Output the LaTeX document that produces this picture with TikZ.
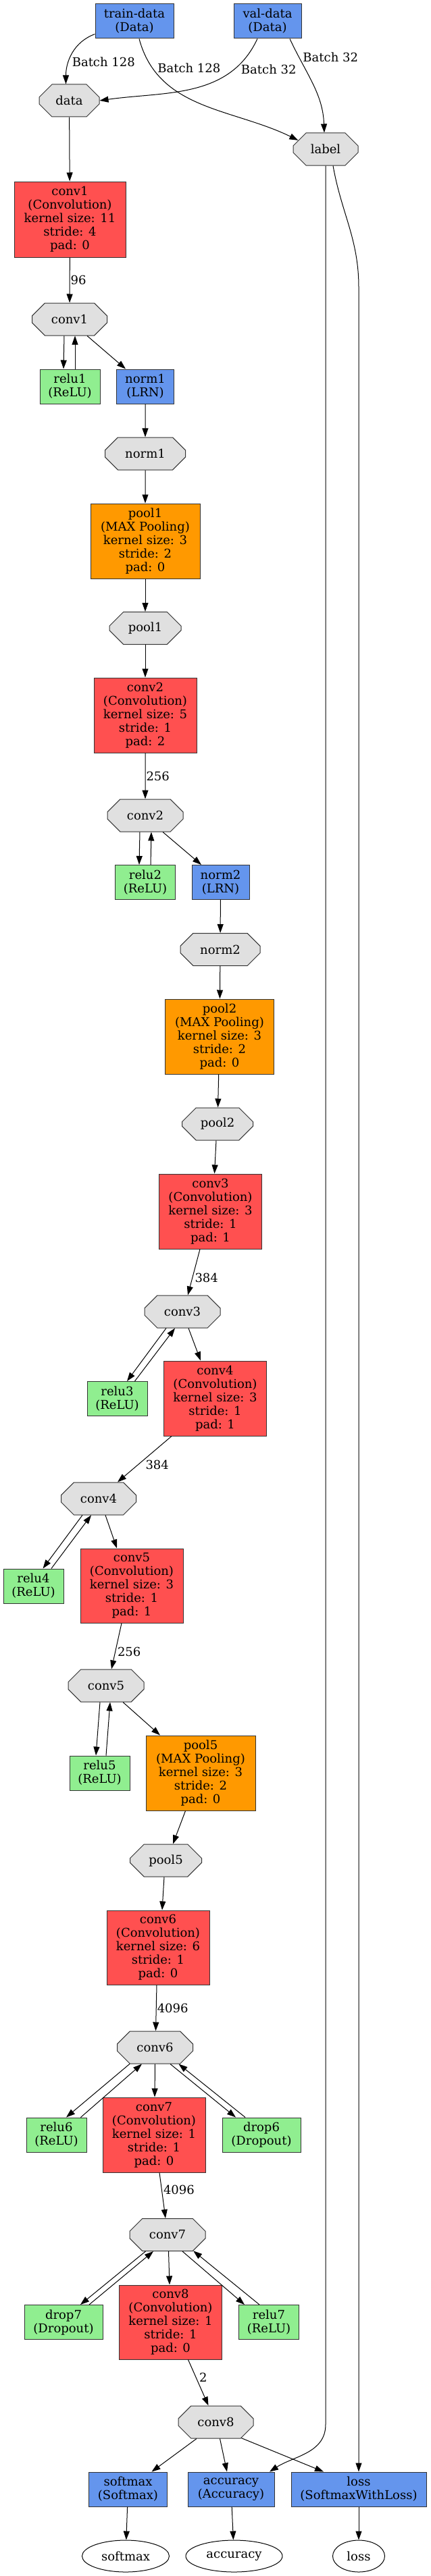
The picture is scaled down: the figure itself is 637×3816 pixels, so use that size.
\documentclass[tikz,border=0pt]{standalone}
\usepackage{fontspec}
\setmainfont{DejaVu Serif}
\usepackage{tikz}
\usetikzlibrary{arrows.meta,shapes.misc,shapes.geometric}
\definecolor{convred}{HTML}{FF5050}
\definecolor{poolorange}{HTML}{FF9900}
\definecolor{layerblue}{HTML}{6495ED}
\definecolor{inplacegreen}{HTML}{90EE90}
\definecolor{blobgray}{HTML}{E0E0E0}
\definecolor{rim}{HTML}{333333}
\tikzset{
  layer/.style={draw=rim, rectangle, align=center, inner sep=1pt, minimum height=51pt},
  conv/.style={layer, fill=convred, minimum width=152pt, minimum height=111pt},
  pool/.style={layer, fill=poolorange, minimum width=162pt, minimum height=111pt},
  bluelayer/.style={layer, fill=layerblue},
  inplace/.style={layer, fill=inplacegreen, minimum width=89pt},
  blob/.style={draw=rim, fill=blobgray, chamfered rectangle, chamfered rectangle xsep=30pt,
    chamfered rectangle ysep=12pt, inner sep=0pt, minimum width=112pt, minimum height=48pt},
  sink/.style={draw=black, ellipse, inner sep=0pt, minimum height=47pt},
  lbl/.style={inner sep=1pt}
}
\begin{document}
\begin{tikzpicture}[auto, x=1pt, y=1pt, line width=1pt, >={Triangle[length=13pt,width=9pt]},
    font=\fontsize{18}{20}\selectfont]
  \useasboundingbox (0,0) rectangle (637,-3816);
  % data layers
  \node[bluelayer, minimum width=116pt] (train) at (199,-31.5) {train-data\\(Data)};
  \node[bluelayer, minimum width=100pt] (val) at (396,-31.5) {val-data\\(Data)};
  \node[blob, minimum width=89pt] (data) at (102.5,-149) {data};
  \node[blob, minimum width=96pt] (label) at (482,-221) {label};
  % conv1 .. norm1 .. pool1
  \node[conv, minimum width=165pt, minimum height=112pt] (conv1) at (103.5,-325) {conv1\\(Convolution)\\kernel size: 11\\stride: 4\\pad: 0};
  \node[blob, minimum width=111pt] (conv1B) at (103,-473) {conv1};
  \node[inplace] (relu1) at (103.5,-572.5) {relu1\\(ReLU)};
  \node[bluelayer, minimum width=85pt] (norm1) at (215,-572.5) {norm1\\(LRN)};
  \node[blob, minimum width=119pt] (norm1B) at (215,-672) {norm1};
  \node[pool] (pool1) at (215,-801.5) {pool1\\(MAX Pooling)\\kernel size: 3\\stride: 2\\pad: 0};
  \node[blob, minimum width=106pt] (pool1B) at (215,-930.5) {pool1};
  % conv2 .. norm2 .. pool2
  \node[conv] (conv2) at (215,-1059.5) {conv2\\(Convolution)\\kernel size: 5\\stride: 1\\pad: 2};
  \node[blob] (conv2B) at (215,-1208) {conv2};
  \node[inplace] (relu2) at (215,-1307) {relu2\\(ReLU)};
  \node[bluelayer, minimum width=85pt] (norm2) at (326.5,-1307) {norm2\\(LRN)};
  \node[blob, minimum width=118pt] (norm2B) at (326,-1406.5) {norm2};
  \node[pool, minimum width=161pt] (pool2) at (325,-1535.5) {pool2\\(MAX Pooling)\\kernel size: 3\\stride: 2\\pad: 0};
  \node[blob, minimum width=105pt] (pool2B) at (322,-1665) {pool2};
  % conv3 .. conv5 .. pool5
  \node[conv] (conv3) at (311.5,-1794.5) {conv3\\(Convolution)\\kernel size: 3\\stride: 1\\pad: 1};
  \node[blob] (conv3B) at (270,-1943) {conv3};
  \node[inplace] (relu3) at (173.5,-2072) {relu3\\(ReLU)};
  \node[conv] (conv4) at (318.5,-2071.5) {conv4\\(Convolution)\\kernel size: 3\\stride: 1\\pad: 1};
  \node[blob, minimum width=111pt] (conv4B) at (146,-2220) {conv4};
  \node[inplace] (relu4) at (49.5,-2349.5) {relu4\\(ReLU)};
  \node[conv, minimum height=110pt] (conv5) at (195,-2349) {conv5\\(Convolution)\\kernel size: 3\\stride: 1\\pad: 1};
  \node[blob] (conv5B) at (157,-2497) {conv5};
  \node[inplace] (relu5) at (147.5,-2626.5) {relu5\\(ReLU)};
  \node[pool] (pool5) at (297,-2626.5) {pool5\\(MAX Pooling)\\kernel size: 3\\stride: 2\\pad: 0};
  \node[blob, minimum width=106pt] (pool5B) at (245.5,-2756) {pool5};
  % conv6 .. conv8
  \node[conv, minimum height=110pt] (conv6) at (234,-2885) {conv6\\(Convolution)\\kernel size: 6\\stride: 1\\pad: 0};
  \node[blob] (conv6B) at (229.5,-3033) {conv6};
  \node[inplace] (relu6) at (83.5,-3162.5) {relu6\\(ReLU)};
  \node[conv] (conv7) at (228,-3162.5) {conv7\\(Convolution)\\kernel size: 1\\stride: 1\\pad: 0};
  \node[inplace, minimum width=116pt] (drop6) at (387,-3162.5) {drop6\\(Dropout)};
  \node[blob] (conv7B) at (248,-3310.5) {conv7};
  \node[inplace, minimum width=116pt] (drop7) at (94,-3440) {drop7\\(Dropout)};
  \node[conv, minimum height=110pt] (conv8) at (252.5,-3440) {conv8\\(Convolution)\\kernel size: 1\\stride: 1\\pad: 0};
  \node[inplace] (relu7) at (398,-3440) {relu7\\(ReLU)};
  \node[blob, minimum width=111pt] (conv8B) at (319.5,-3588) {conv8};
  % outputs
  \node[bluelayer, minimum width=116pt] (softmax) at (189.5,-3687.5) {softmax\\(Softmax)};
  \node[bluelayer, minimum width=128pt] (accuracy) at (342,-3687.5) {accuracy\\(Accuracy)};
  \node[bluelayer, minimum width=200pt] (loss) at (531,-3687.5) {loss\\(SoftmaxWithLoss)};
  \node[sink, minimum width=129pt] (softmaxB) at (186,-3786.5) {softmax};
  \node[sink, minimum width=143pt] (accuracyB) at (346.5,-3786.5) {accuracy};
  \node[sink, minimum width=77pt] (lossB) at (531,-3786.5) {loss};

  \draw[->] (train.198) to[out=200, in=90] node[lbl, pos=0.55]{Batch 128} ([xshift=-5pt]data.north);
  \draw[->] ([xshift=7pt]train.south) to[out=-75, in=154] node[lbl, pos=0.2]{Batch 128} (label.162);
  \draw[->] ([xshift=-15pt]val.south) to[out=-115, in=8] node[lbl, pos=0.17]{Batch 32} (data.east);
  \draw[->] ([xshift=33pt]val.south) to[out=-65, in=92] node[lbl, pos=0.25]{Batch 32} ([xshift=-2pt]label.north);
  \draw[->] (label.south) -- ++(0,-3346) to[out=-90, in=33] ([xshift=57pt]accuracy.north);
  \draw[->] ([xshift=11pt]label.south) to[out=-80, in=90] ++(38,-180) -- (loss.north);

  \draw[->] (data) -- (conv1);
  \draw[->] (conv1) to node[lbl]{96} (conv1B);
  \draw[->] ([xshift=-8pt]conv1B.south) -- ([xshift=-9.5pt]relu1.north);
  \draw[->] ([xshift=7.5pt]relu1.north) -- ([xshift=8pt]conv1B.south);
  \draw[->] ([xshift=26pt]conv1B.south) -- ([xshift=-29pt]norm1.north);
  \draw[->] (norm1) -- (norm1B);
  \draw[->] (norm1B) -- (pool1);
  \draw[->] (pool1) -- (pool1B);
  \draw[->] (pool1B) -- (conv2);
  \draw[->] (conv2) to node[lbl]{256} (conv2B);
  \draw[->] ([xshift=-8pt]conv2B.south) -- ([xshift=-9pt]relu2.north);
  \draw[->] ([xshift=8pt]relu2.north) -- ([xshift=9pt]conv2B.south);
  \draw[->] ([xshift=26pt]conv2B.south) -- ([xshift=-28.5pt]norm2.north);
  \draw[->] (norm2) -- (norm2B);
  \draw[->] (norm2B) -- (pool2);
  \draw[->] (pool2) -- (pool2B);
  \draw[->] ([xshift=-2pt]pool2B.south) -- ([xshift=6pt]conv3.north);
  \draw[->] ([xshift=-15.5pt]conv3.south) to node[lbl]{384} ([xshift=8pt]conv3B.north);
  \draw[->] ([xshift=-24pt]conv3B.south) -- ([xshift=14.5pt]relu3.north);
  \draw[->] ([xshift=26pt]relu3.north) -- ([xshift=-11pt]conv3B.south);
  \draw[->] ([xshift=9pt]conv3B.south) -- ([xshift=-21.5pt]conv4.north);
  \draw[->] ([xshift=-64.5pt]conv4.south) to node[lbl]{384} ([xshift=28pt]conv4B.north);
  \draw[->] ([xshift=-24pt]conv4B.south) -- ([xshift=14pt]relu4.north);
  \draw[->] ([xshift=26.5pt]relu4.north) -- ([xshift=-11pt]conv4B.south);
  \draw[->] ([xshift=10pt]conv4B.south) -- ([xshift=-22pt]conv5.north);
  \draw[->] ([xshift=-15pt]conv5.south) to node[lbl]{256} ([xshift=8pt]conv5B.north);
  \draw[->] ([xshift=-9pt]conv5B.south) -- ([xshift=-5.5pt]relu5.north);
  \draw[->] ([xshift=9.5pt]relu5.north) -- ([xshift=6pt]conv5B.south);
  \draw[->] ([xshift=25pt]conv5B.south) -- ([xshift=-60pt]pool5.north);
  \draw[->] ([xshift=-22.5pt]pool5.south) -- ([xshift=10.5pt]pool5B.north);
  \draw[->] ([xshift=-2.5pt]pool5B.south) -- ([xshift=6pt]conv6.north);
  \draw[->] ([xshift=-2pt]conv6.south) to node[lbl]{4096} ([xshift=1pt]conv6B.north);
  \draw[->] (conv6B.213) -- ([xshift=14.5pt]relu6.north);
  \draw[->] ([xshift=36pt]relu6.north) -- ([xshift=-19.5pt]conv6B.south);
  \draw[->] (conv6B.south) -- ([xshift=1pt]conv7.north);
  \draw[->] ([xshift=22.5pt]conv6B.south) -- ([xshift=-38pt]drop6.north);
  \draw[->] ([xshift=-24pt]drop6.north) -- (conv6B.-35);
  \draw[->] ([xshift=8pt]conv7.south) to node[lbl]{4096} ([xshift=-3pt]conv7B.north);
  \draw[->] (conv7B.217) -- ([xshift=25pt]drop7.north);
  \draw[->] ([xshift=38pt]drop7.north) -- ([xshift=-21pt]conv7B.south);
  \draw[->] ([xshift=1.5pt]conv7B.south) -- ([xshift=-1.5pt]conv8.north);
  \draw[->] ([xshift=22pt]conv7B.south) -- ([xshift=-36pt]relu7.north);
  \draw[->] ([xshift=-14pt]relu7.north) -- (conv7B.-32);
  \draw[->] ([xshift=26pt]conv8.south) to node[lbl]{2} ([xshift=-11pt]conv8B.north);
  \draw[->] ([xshift=-28.5pt]conv8B.south) -- ([xshift=35pt]softmax.north);
  \draw[->] ([xshift=6pt]conv8B.south) -- ([xshift=-6pt]accuracy.north);
  \draw[->] (conv8B.-32) -- ([xshift=-52pt]loss.north);
  \draw[->] (softmax) -- (softmaxB);
  \draw[->] (accuracy) -- (accuracyB);
  \draw[->] (loss) -- (lossB);
\end{tikzpicture}
\end{document}
